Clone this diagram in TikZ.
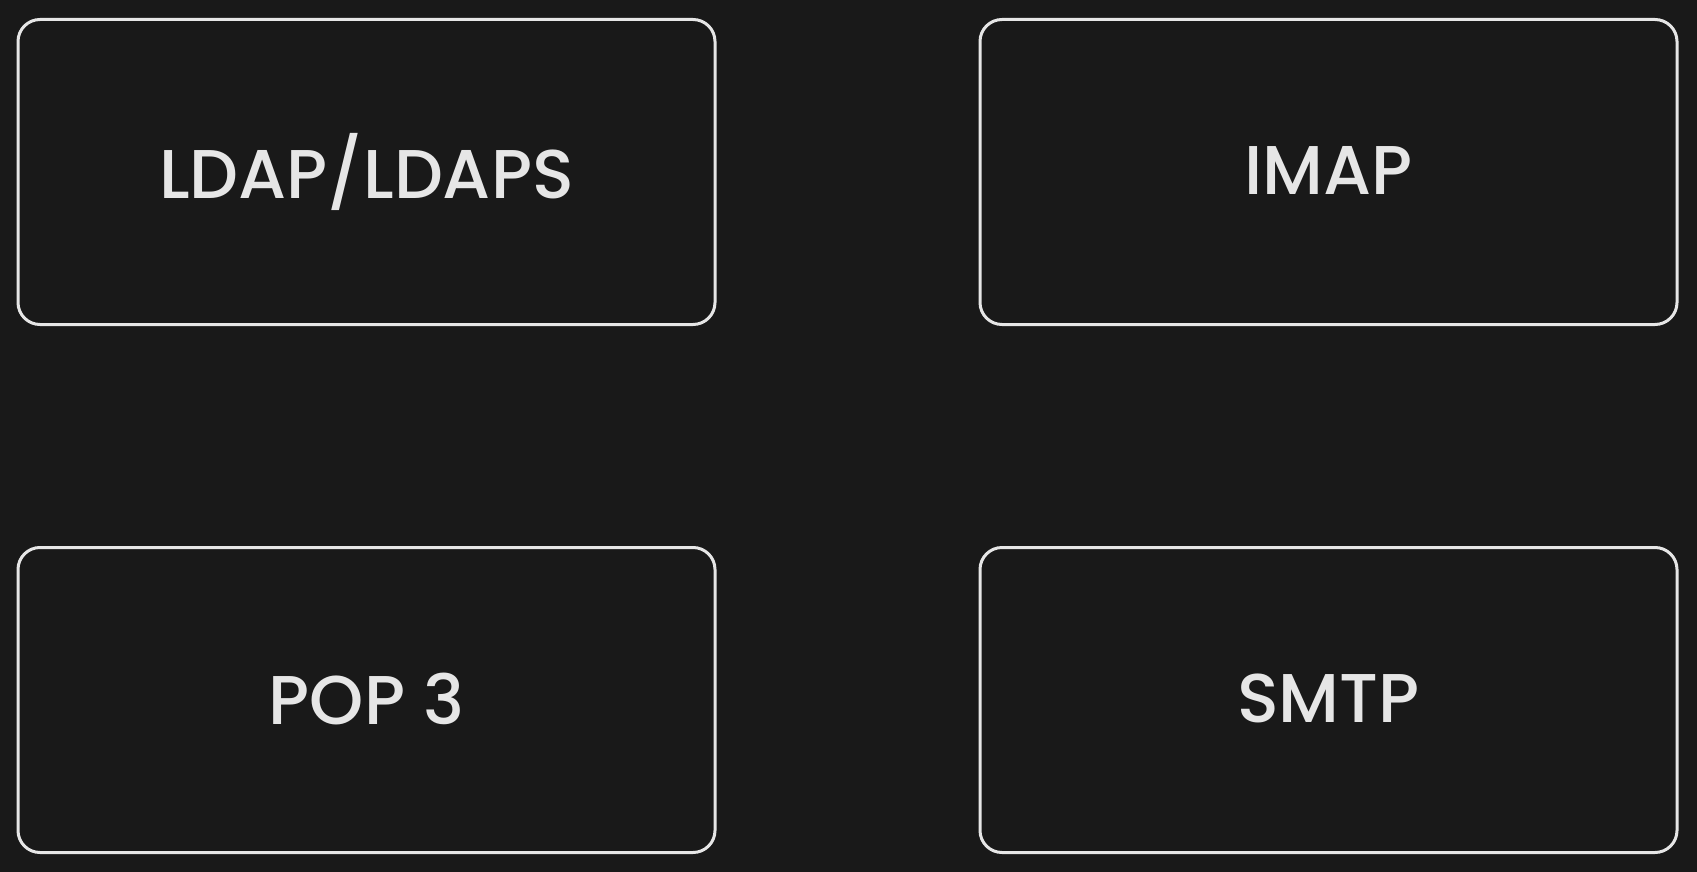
\documentclass[tikz,border=0pt]{standalone}
\usepackage{fontspec}
\setmainfont{Poppins}[UprightFont=* Medium]
\definecolor{bg}{HTML}{191919}
\definecolor{fg}{HTML}{E6E6E6}
\newcommand{\lift}[1]{\raisebox{3pt}{#1}}
\tikzset{
  proto/.style={draw=fg, line width=3pt, rounded corners=22pt, minimum width=697pt, minimum height=305pt, inner sep=0pt, text=fg, font=\fontsize{69}{80}\selectfont}
}
\begin{document}
\begin{tikzpicture}[x=1pt,y=-1pt]
\fill[bg] (0,0) rectangle (1697,872);
\useasboundingbox (0,0) rectangle (1697,872);
\node[proto] (ldap) at (366.5,172) {\lift{LDAP/LDAPS}};
\node[proto] (imap) at (1328.5,172) {\lift{IMAP}};
\node[proto] (pop) at (366.5,700) {\lift{POP 3}};
\node[proto] (smtp) at (1328.5,700) {\lift{SMTP}};
\end{tikzpicture}
\end{document}
